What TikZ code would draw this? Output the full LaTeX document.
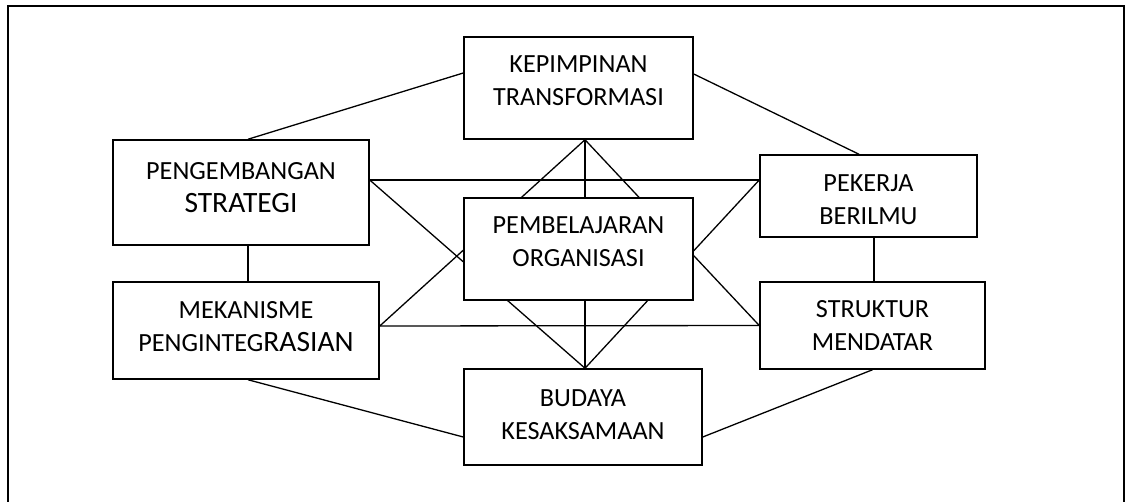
\documentclass[tikz,border=0pt]{standalone}
\usepackage{fontspec}
\setmainfont{Carlito}
\usetikzlibrary{calc,backgrounds}
\newcommand{\bigpart}[1]{{\fontsize{29.5}{33}\selectfont #1}}
\begin{document}
\begin{tikzpicture}[x=1pt,y=-1pt,
  box/.style={draw,line width=1.5pt,fill=white,rectangle,inner sep=0pt},
  lbl/.style={align=center,inner sep=0pt,font=\fontsize{26.2}{33}\selectfont},
  link/.style={line width=1.3pt}]
\useasboundingbox (0,0) rectangle (1127,501);
% frame, open at the bottom edge
\draw[line width=1.5pt] (8,505) -- (8,6) -- (1124,6) -- (1124,505);

% boxes (centre, width, height)
\node[box,minimum width=229pt,minimum height=102pt] (kep) at (578.5,88) {};
\node[box,minimum width=256pt,minimum height=105pt] (peng) at (241,192.5) {};
\node[box,minimum width=217pt,minimum height=82pt] (pek) at (868.5,196) {};
\node[box,minimum width=229pt,minimum height=102pt] (pem) at (578.5,249) {};
\node[box,minimum width=266pt,minimum height=97pt] (mek) at (246,330.5) {};
\node[box,minimum width=225pt,minimum height=87pt] (str) at (872.5,325.5) {};
\node[box,minimum width=238pt,minimum height=96pt] (bud) at (583,417) {};

% box texts
\node[lbl] (kep-t) at ([yshift=7pt]kep.center) {KEPIMPINAN\\TRANSFORMASI};
\node[lbl] (peng-t) at ([yshift=5pt]peng.center) {PENGEMBANGAN\\\bigpart{STRATEGI}};
\node[lbl] (pek-t) at ([yshift=-4pt]pek.center) {PEKERJA\\BERILMU};
\node[lbl] (pem-t) at ([yshift=7pt]pem.center) {PEMBELAJARAN\\ORGANISASI};
\node[lbl] (mek-t) at ([yshift=4pt]mek.center) {MEKANISME\\PENGINTEG\bigpart{RASIAN}};
\node[lbl] (str-t) at (str.center) {STRUKTUR\\MENDATAR};
\node[lbl] (bud-t) at ([yshift=2pt]bud.center) {BUDAYA\\KESAKSAMAAN};

% attachment points
\coordinate (kapex) at ([xshift=6.5pt]kep.south);
\coordinate (bapex) at ([xshift=2pt]bud.north);
\coordinate (pengR) at ([yshift=12.5pt]peng.east);
\coordinate (pekL) at ([yshift=16pt]pek.west);
\coordinate (mekR) at ([yshift=4.5pt]mek.east);
\coordinate (strL) at (str.west);

% connectors, drawn beneath the boxes
\begin{scope}[on background layer]
  \draw[link] ([yshift=15pt]kep.west) -- ([xshift=7pt]peng.north);
  \draw[link] ([yshift=14pt]kep.east) -- ([xshift=-9.5pt]pek.north);
  \draw[link] ([xshift=7pt]peng.south) -- ([xshift=2pt]mek.north);
  \draw[link] ([xshift=5.5pt]pek.south) -- ([xshift=1.5pt]str.north);
  \draw[link] ([xshift=2pt]mek.south) -- ([yshift=-20pt]bud.west);
  \draw[link] (str.south) -- ([yshift=-20pt]bud.east);
  \draw[link] (pengR) -- (pekL);
  \draw[link] (mekR) -- (strL);
  \draw[link] (kapex) -- (mekR);
  \draw[link] (kapex) -- (strL);
  \draw[link] (kapex) -- ([xshift=6.5pt]pem.north);
  \draw[link] (bapex) -- (pengR);
  \draw[link] (bapex) -- (pekL);
  \draw[link] (bapex) -- ([xshift=6.5pt]pem.south);
\end{scope}
\end{tikzpicture}
\end{document}
